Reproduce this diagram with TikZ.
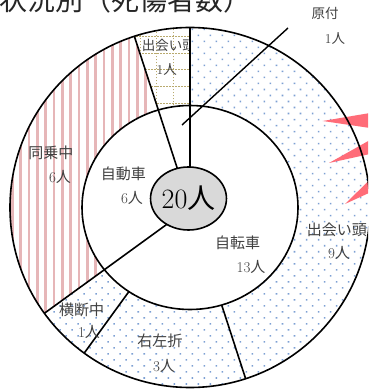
\documentclass[tikz,border=0pt]{standalone}
\usepackage{fontspec}
\newfontfamily\cjk{Noto Sans CJK JP}
\usetikzlibrary{patterns.meta,shapes.geometric}
\definecolor{dotblue}{RGB}{125,160,212}
\definecolor{stripepink}{RGB}{230,182,184}
\definecolor{gridtan}{RGB}{185,170,110}
\definecolor{labelgray}{RGB}{64,64,64}
\definecolor{burstred}{RGB}{255,108,120}
\definecolor{hubgray}{RGB}{217,217,217}
\newcommand{\jp}[1]{{\cjk #1}}
\tikzset{
  ring/.style={draw=black, line width=1.6pt},
  stripe/.style={stripepink, line width=2.5pt},
  gridline/.style={gridtan, line width=1pt, dash pattern=on 1.5pt off 1.5pt},
  dotfill/.style={fill=white, postaction={pattern={Dots[angle=45,distance=8.5pt,radius=1.1pt]}, pattern color=dotblue}},
  lbl/.style={text=labelgray, inner sep=0pt, font=\fontsize{15}{15}\selectfont},
  smalllbl/.style={lbl, font=\fontsize{13.5}{13.5}\selectfont},
  hub/.style={ellipse, draw=black, line width=1.6pt, fill=hubgray, minimum width=70pt, minimum height=63pt, inner sep=0pt, font=\fontsize{28}{28}\selectfont}
}
\begin{document}
\begin{tikzpicture}[x=1pt,y=1pt]
\useasboundingbox (-190,-182.5) rectangle (178,207.5);
\clip (-190,-182.5) rectangle (178,207.5);
% title, cut by the top edge
\node[anchor=base west, inner sep=0pt, text=black!85, font=\cjk\fontsize{28}{28}\selectfont] (title) at (-191,196.5) {状況別（死傷者数）};
% outer ring fills
\fill[dotfill] (0,0) -- (90:180) arc[start angle=90, end angle=-144, radius=180] -- cycle;
\fill[white] (0,0) -- (-144:180) arc[start angle=-144, end angle=-252, radius=180] -- cycle;
\begin{scope}
\clip (0,0) -- (-144:180) arc[start angle=-144, end angle=-252, radius=180] -- cycle;
\foreach \k in {-1,...,15}
  \draw[stripe] ({-169.3+8.33*\k},-120) -- ++(0,300);
\end{scope}
\begin{scope}
\clip (0,0) -- (108:180) arc[start angle=108, end angle=90, radius=180] -- cycle;
\fill[white] (-60,90) rectangle (0,190);
\foreach \gx in {-50,-33.4,-16.7}
  \draw[gridline] (\gx,90) -- ++(0,100);
\foreach \gy in {104,120.8,137.6,154.4,171.2}
  \draw[gridline] (-60,\gy) -- ++(60,0);
\node[smalllbl, anchor=west] (deai-top) at (-48.3,161.7) {\jp{出会い頭}};
\end{scope}
% red spikes at the right edge
\fill[burstred] (132.7,86.5) -- (180,94.5) -- (180,79.5) -- cycle;
\fill[burstred] (139,44.5) -- (180,67.5) -- (180,53.5) -- cycle;
\fill[burstred] (155,3.5) -- (180,28) -- (180,15) -- cycle;
% borders
\draw[ring] (0,0) -- (-72:180);
\draw[ring] (0,0) -- (-126:180);
\draw[ring, fill=white] (0,0) ellipse [x radius=108, y radius=102];
\foreach \a in {90,108,-144}
  \draw[ring] (0,0) -- (\a:180);
\draw[ring] (0,0) circle [radius=180];
% leader to the moped label
\coordinate (lead-a) at (-8,82.5);
\coordinate (lead-b) at (98,179.5);
\draw[line width=1.4pt] (lead-a) -- (lead-b);
\node[hub] (total) at (-1.5,9) {20\jp{人}};
% labels
\node[smalllbl] (gentsuki) at (135,193.7) {\jp{原付}};
\node[smalllbl] (gentsuki-n) at (145,169.2) {1\jp{人}};
\node[smalllbl] (deai-top-n) at (-23.3,138.3) {1\jp{人}};
\node[lbl] (dojo) at (-139.2,54.5) {\jp{同乗中}};
\node[lbl] (dojo-n) at (-130,30.8) {6\jp{人}};
\node[lbl] (car) at (-66.7,34) {\jp{自動車}};
\node[lbl] (car-n) at (-58,9.5) {6\jp{人}};
\node[lbl] (bike) at (47.5,-35.2) {\jp{自転車}};
\node[lbl] (bike-n) at (61,-59.2) {13\jp{人}};
\node[lbl, anchor=west] (deai) at (116.7,-22.5) {\jp{出会い頭}};
\node[lbl] (deai-n) at (149,-45.5) {9\jp{人}};
\node[lbl] (odan) at (-108.3,-102.5) {\jp{横断中}};
\node[lbl] (odan-n) at (-101,-124.2) {1\jp{人}};
\node[lbl] (usetsu) at (-30,-133.5) {\jp{右左折}};
\node[lbl] (usetsu-n) at (-26,-158.5) {3\jp{人}};
\end{tikzpicture}
\end{document}
